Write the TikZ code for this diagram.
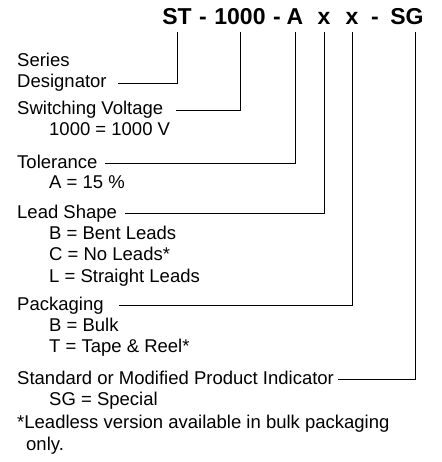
\documentclass[tikz,border=0pt]{standalone}
\usepackage{fontspec}
\setmainfont{Liberation Sans}
\usetikzlibrary{positioning}

\begin{document}
\begin{tikzpicture}[
    x=1pt, y=-1pt,
    code/.style={font=\fontsize{23}{23}\selectfont\bfseries, inner sep=0pt, text height=16.5pt, text depth=7pt, anchor=base},
    lbl/.style={font=\fontsize{18.5}{21}\selectfont, inner sep=0pt, text height=13.5pt, text depth=3.5pt, anchor=base west},
    link/.style={line width=0.9pt}
]
    \useasboundingbox (0,0) rectangle (441,462);

    % Part number
    \node[code] (st) at (177, 25) {ST};
    \node[code] (d1) at (203, 25) {-};
    \node[code] (volt) at (240, 25) {1000};
    \node[code] (d2) at (277, 25) {-};
    \node[code] (tol) at (295, 25) {A};
    \node[code] (lead) at (324, 25) {x};
    \node[code] (pack) at (352, 25) {x};
    \node[code] (d3) at (375, 25) {-};
    \node[code] (std) at (407, 25) {SG};

    % Field descriptions
    \node[lbl] (ser) at (17, 66.5) {Series};
    \node[lbl] (desig) at (17, 88) {Designator};
    \node[lbl] (sw) at (17, 115) {Switching Voltage};
    \node[lbl] (sw1) at (49, 136) {1000 = 1000 V};
    \node[lbl] (tl) at (17, 168) {Tolerance};
    \node[lbl] (tl1) at (49, 189) {A = 15 \%};
    \node[lbl] (ls) at (17, 218) {Lead Shape};
    \node[lbl] (ls1) at (49, 239.5) {B = Bent Leads};
    \node[lbl] (ls2) at (49, 260.5) {C = No Leads*};
    \node[lbl] (ls3) at (49, 282) {L = Straight Leads};
    \node[lbl] (pk) at (17, 310) {Packaging};
    \node[lbl] (pk1) at (49, 331) {B = Bulk};
    \node[lbl] (pk2) at (49, 352) {T = Tape \& Reel*};
    \node[lbl] (sm) at (17, 384) {Standard or Modified Product Indicator};
    \node[lbl] (sm1) at (49, 405) {SG = Special};
    \node[lbl] (note) at (17, 428) {*Leadless version available in bulk packaging};
    \node[lbl] (note1) at (26, 450) {only.};

    % Connectors
    \draw[link] ([xshift=11pt]desig.east) -| (st.south);
    \draw[link] ([xshift=13pt]sw.east) -| (volt.south);
    \draw[link] ([xshift=7pt]tl.east) -| (tol.south);
    \draw[link] ([xshift=8pt]ls.east) -| (lead.south);
    \draw[link] ([xshift=15pt]pk.east) -| (pack.south);
    \draw[link] ([xshift=4pt]sm.east) -| ([xshift=8pt]std.south);

\end{tikzpicture}
\end{document}
